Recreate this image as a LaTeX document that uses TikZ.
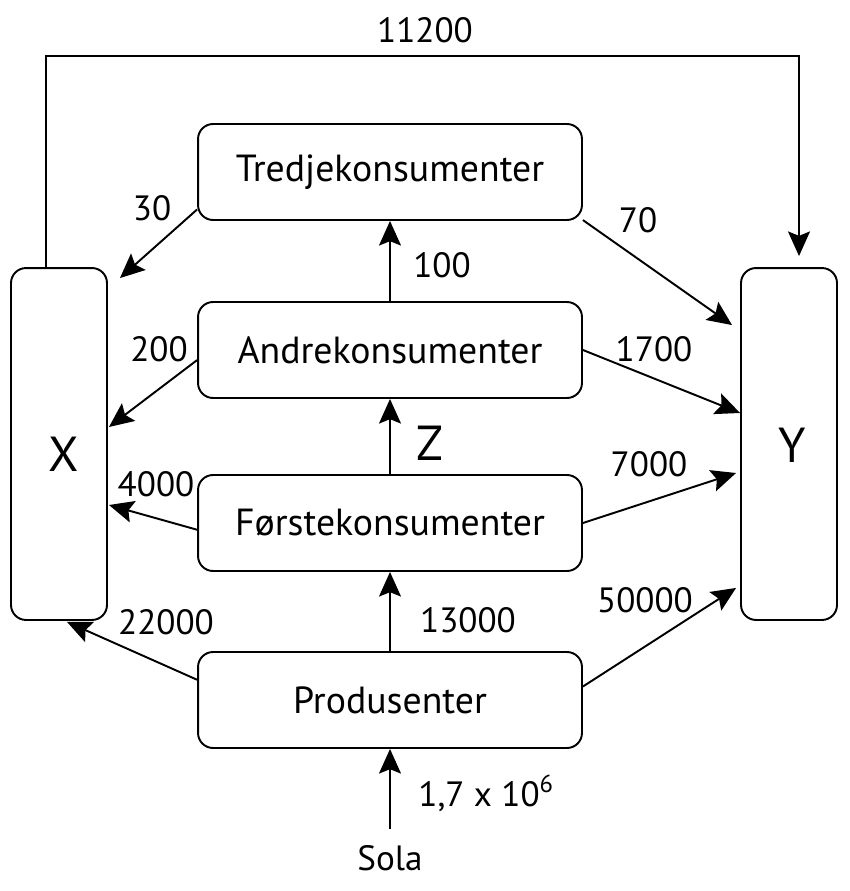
\documentclass[tikz,border=0pt]{standalone}
\usepackage{fontspec}
\setmainfont{PT Sans}
\usetikzlibrary{calc,arrows.meta}

\begin{document}
\begin{tikzpicture}[x=0.02cm, y=-0.02cm,
	box/.style={draw, line width=1.1pt, rounded corners=0.3cm, minimum width=7.68cm, minimum height=1.92cm, font=\fontsize{21.5}{25}\selectfont},
	tall/.style={draw, line width=1.1pt, rounded corners=0.3cm, minimum width=1.92cm, minimum height=7.04cm},
	arr/.style={line width=1.1pt, -{Stealth[length=14pt, width=12.5pt, inset=2.5pt]}},
	lbl/.style={inner sep=0pt, font=\fontsize{20}{23}\selectfont},
	big/.style={inner sep=0pt, font=\fontsize{28}{32}\selectfont}]
	%%%%% START %%%%%
	
	\useasboundingbox (0, 0) rectangle (849, 891);
	
	\node[box] (tredje) at (390, 172) {Tredjekonsumenter};
	\node[box] (andre) at (390, 350) {Andrekonsumenter};
	\node[box] (forste) at (390, 523) {Førstekonsumenter};
	\node[box] (prod) at (390, 700) {Produsenter};
	
	\node[tall] (X) at (59, 444) {};
	\node[tall] (Y) at (789, 444) {};
	\node[big] (xname) at (64, 454) {X};
	\node[big] (yname) at (792, 445) {Y};
	
	\node[lbl] (sola) at (390, 858) {Sola};
	
	% opp gjennom kjeden
	\draw[arr] (sola.north) ++(0, -16) -- (prod.south);
	\draw[arr] (prod.north) -- (forste.south);
	\draw[arr] (forste.north) -- (andre.south);
	\draw[arr] (andre.north) -- (tredje.south);
	
	% til X
	\draw[arr] (tredje.191.5) -- ($(X.north east)+(12, 11)$);
	\draw[arr] (andre.183.9) -- ($(X.east)+(1, -17)$);
	\draw[arr] (forste.182.7) -- ($(X.east)+(1, 61)$);
	\draw[arr] (prod.174.3) -- ($(X.south)+(8, 1)$);
	
	% til Y
	\draw[arr] (tredje.346.8) -- ($(Y.north west)+(-8, 58)$);
	\draw[arr] (andre.east) -- ($(Y.west)+(0, -31)$);
	\draw[arr] (forste.east) -- ($(Y.west)+(-4, 29)$);
	\draw[arr] (prod.4.2) -- ($(Y.south west)+(-4, -33)$);
	
	\draw[arr] ($(X.north)+(-13, 0)$) -- ++(0, -211) -| ($(Y.north)+(10, -11)$);
	
	\node[lbl] (n11200) at (425, 30) {11200};
	\node[lbl] (n30) at (152, 208) {30};
	\node[lbl] (n70) at (638, 220) {70};
	\node[lbl] (n100) at (442, 265) {100};
	\node[lbl] (n200) at (159, 349) {200};
	\node[lbl] (n1700) at (654, 349) {1700};
	\node[big] (zname) at (430, 443) {Z};
	\node[lbl] (n4000) at (156, 484) {4000};
	\node[lbl] (n7000) at (649, 464) {7000};
	\node[lbl] (n22000) at (166, 622) {22000};
	\node[lbl] (n13000) at (468, 620) {13000};
	\node[lbl] (n50000) at (645, 600) {50000};
	\node[lbl, anchor=base west] (nsol) at (418, 806) {1,7 x 10\textsuperscript{6}};
	
	%%%%% END %%%%%
\end{tikzpicture}
\end{document}
